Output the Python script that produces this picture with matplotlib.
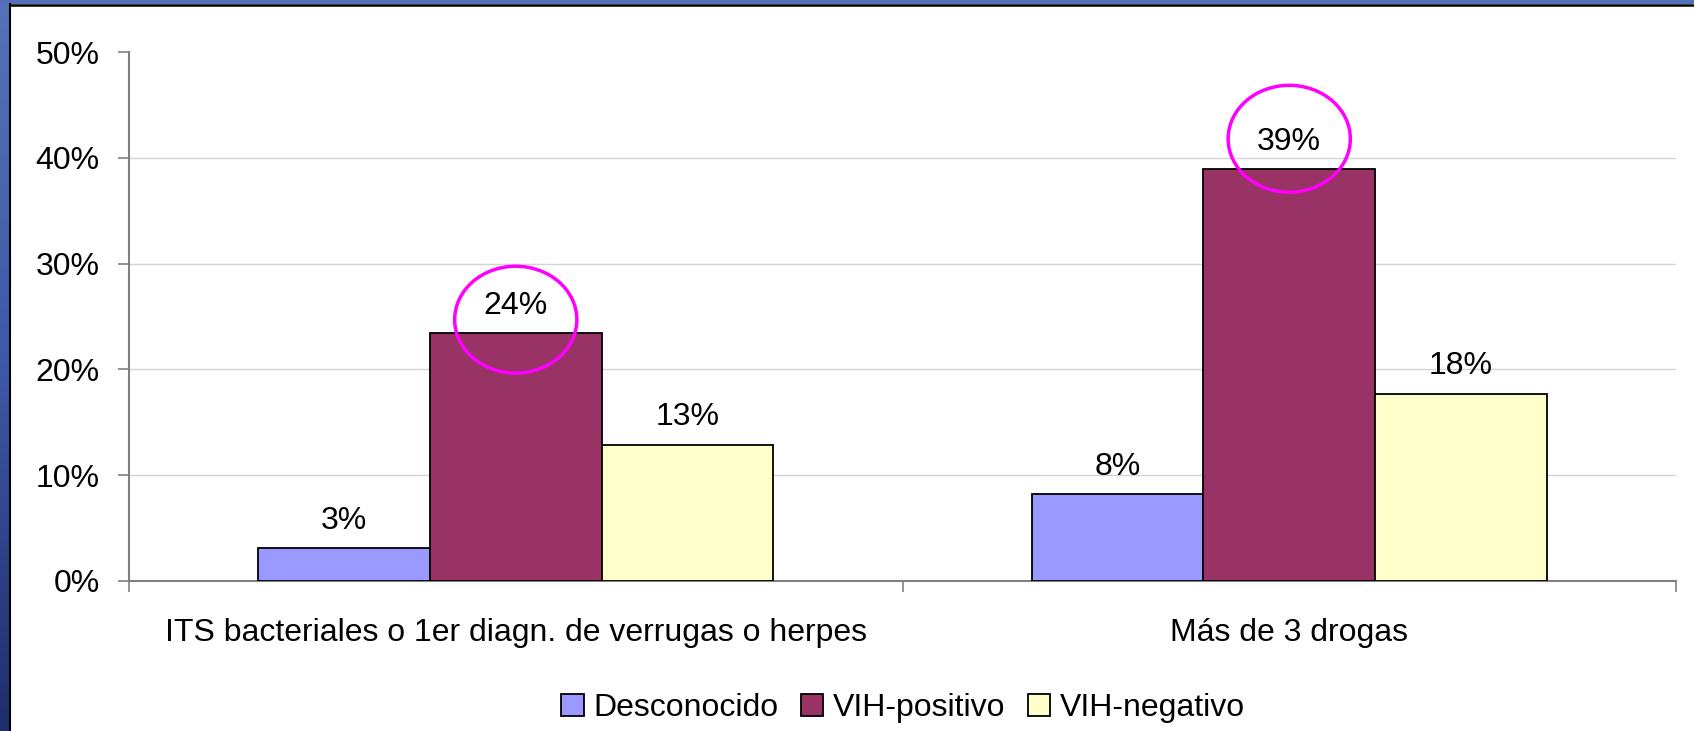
import numpy as np
import matplotlib
matplotlib.use("Agg")
import matplotlib.pyplot as plt
from matplotlib.patches import Ellipse, Rectangle
from matplotlib.colors import LinearSegmentedColormap

plt.rcParams['font.family'] = ['Liberation Sans', 'DejaVu Sans']

categories = ["ITS bacteriales o 1er diagn. de verrugas o herpes", "Más de 3 drogas"]
series = ["Desconocido", "VIH-positivo", "VIH-negativo"]
desconocido = [3.1, 8.2]
vih_pos = [23.4, 38.9]
vih_neg = [12.9, 17.7]
labels_desc = ["3%", "8%"]
labels_pos = ["24%", "39%"]
labels_neg = ["13%", "18%"]
colors = ["#9999ff", "#993366", "#ffffcc"]

W, H = 1694, 731
fig = plt.figure(figsize=(W / 100, H / 100), dpi=100)
fig.patch.set_facecolor("white")

# blue frame on left and top
strip = fig.add_axes([0, 0, 9 / W, 1])
cmap = LinearSegmentedColormap.from_list("frame", ["#1f2e6c", "#3f58a6", "#5572ba"])
strip.imshow(np.linspace(0, 1, 256).reshape(-1, 1), aspect="auto", cmap=cmap, origin="lower")
strip.axis("off")
fig.patches.append(Rectangle((0, 1 - 4 / H), 1, 4 / H, transform=fig.transFigure,
                             facecolor="#5470b8", edgecolor="none", zorder=5))
fig.lines.append(plt.Line2D([9.5 / W, 9.5 / W], [0, 1 - 4 / H], transform=fig.transFigure,
                            color="black", lw=1.5, zorder=6))
fig.lines.append(plt.Line2D([9.5 / W, 1], [1 - 5 / H, 1 - 5 / H], transform=fig.transFigure,
                            color="black", lw=1.8, zorder=6))

ax = fig.add_axes([129 / W, (H - 581) / H, (1676 - 129) / W, (581 - 52) / H])

fs = 23
x = np.arange(len(categories))
w = 0.222
data = [desconocido, vih_pos, vih_neg]
labs = [labels_desc, labels_pos, labels_neg]
for i, (vals, lab) in enumerate(zip(data, labs)):
    xs = x + (i - 1) * w
    ax.bar(xs, vals, w, color=colors[i], edgecolor="black", linewidth=1.3,
           label=series[i], zorder=3)
    for xi, v, t in zip(xs, vals, lab):
        ax.annotate(t, (xi, v), xytext=(0, 14), textcoords="offset points",
                    ha="center", va="baseline", fontsize=fs, zorder=4)

# magenta highlights around VIH-positivo labels
circle_offset = [1.3, 2.9]
for xi, v, off in zip(x, vih_pos, circle_offset):
    ax.add_patch(Ellipse((xi, v + off), 0.158, 10.1, fill=False,
                         edgecolor="#ff00ff", linewidth=2.5, zorder=5, clip_on=False))

ax.set_xlim(-0.5, 1.5)
ax.set_ylim(0, 50)
ax.set_yticks(np.arange(0, 51, 10))
ax.set_yticklabels([f"{t}%" for t in range(0, 51, 10)], fontsize=fs)
for g in range(10, 50, 10):
    ax.axhline(g, color="#d4d4d4", lw=1, zorder=1)

ax.set_xticks([-0.5, 0.5, 1.5])
ax.set_xticklabels([])
ax.set_xticks(x, minor=True)
ax.set_xticklabels(categories, minor=True, fontsize=fs)
ax.tick_params(axis="x", which="minor", length=0, pad=27)
ax.tick_params(axis="x", which="major", length=8, width=1.2, color="#808080")
ax.tick_params(axis="y", length=8, width=1.2, color="#808080", pad=13)

for s in ["top", "right"]:
    ax.spines[s].set_visible(False)
for s in ["left", "bottom"]:
    ax.spines[s].set_color("#808080")
    ax.spines[s].set_linewidth(1.5)

fig.legend(loc="center", bbox_to_anchor=(903 / W, 1 - 708 / H), ncol=3, frameon=False,
           fontsize=fs, handlelength=0.7, handleheight=0.7, handletextpad=0.3,
           columnspacing=0.7)

fig.savefig("out.png", dpi=100)
